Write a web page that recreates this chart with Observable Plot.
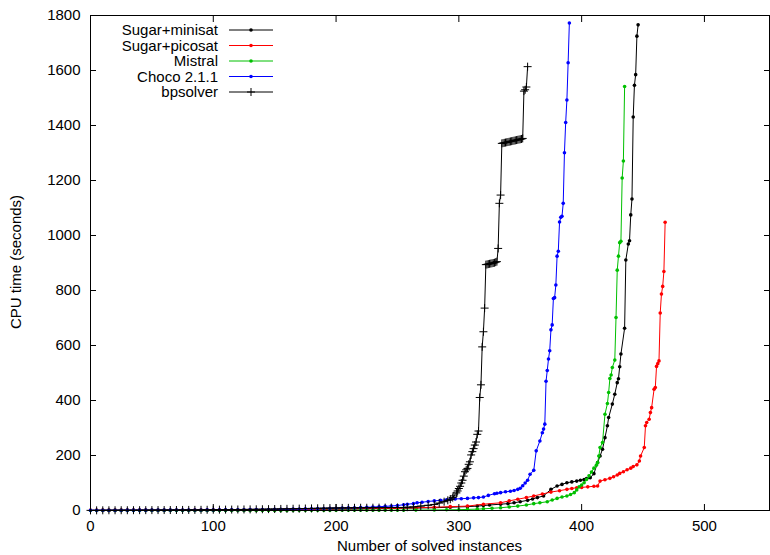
<!DOCTYPE html>
<html>
<head>
<meta charset="utf-8">
<script src="https://cdn.jsdelivr.net/npm/d3@7"></script>
<script src="https://cdn.jsdelivr.net/npm/@observablehq/plot@0.6"></script>
<style>
  html, body { margin: 0; padding: 0; background: #fff; }
  #chart { width: 770px; height: 555px; }
</style>
</head>
<body>
<div id="chart"></div>
<script>
// ---- data ----
const seriesNames = ["Sugar+minisat", "Sugar+picosat", "Mistral", "Choco 2.1.1", "bpsolver"];
const seriesColors = ["#000000", "#ff0000", "#00c000", "#0000ff", "#000000"];

const xTicks = [0, 100, 200, 300, 400, 500];
const yTicks = [0, 200, 400, 600, 800, 1000, 1200, 1400, 1600, 1800];

// common low part of the cactus (instances 0..250)
const baseN = [0,5,10,15,20,25,30,35,40,45,
  50,55,60,65,70,75,80,85,90,95,
  100,105,110,115,120,125,130,135,140,145,
  150,155,160,165,170,175,180,185,190,195,
  200,205,210,215,220,225,230,235,240,245,
  250];

const minisatBaseT = [0.2,0.2,0.3,0.3,0.3,0.4,0.4,0.4,0.5,0.5,
  0.5,0.6,0.6,0.7,0.7,0.8,0.8,0.9,0.9,1,
  1,1.1,1.2,1.3,1.4,1.5,1.6,1.7,1.8,2,
  2.1,2.3,2.5,2.7,2.9,3.1,3.3,3.5,3.8,4.1,
  4.4,4.7,5,5.3,5.6,6,6.3,6.7,7,7.4,
  8];
const picosatBaseT = [0.3,0.3,0.4,0.4,0.5,0.5,0.6,0.6,0.7,0.7,
  0.8,0.8,0.9,0.9,1,1,1.1,1.2,1.3,1.4,
  1.5,1.6,1.7,1.8,1.9,2,2.1,2.3,2.5,2.7,
  2.9,3.1,3.3,3.5,3.7,4,4.2,4.5,4.8,5.1,
  5.4,5.7,6,6.3,6.6,6.9,7.2,7.5,7.8,8.1,
  8.5];
const mistralBaseT = [0.1,0.1,0.1,0.1,0.1,0.1,0.1,0.1,0.1,0.1,
  0.1,0.1,0.1,0.1,0.2,0.2,0.2,0.2,0.2,0.2,
  0.2,0.2,0.3,0.3,0.3,0.3,0.3,0.3,0.4,0.4,
  0.4,0.4,0.4,0.5,0.5,0.5,0.5,0.6,0.6,0.6,
  0.6,0.7,0.7,0.7,0.8,0.8,0.8,0.9,0.9,1,
  1];
const chocoBaseT = [0.8,0.9,1,1,1.1,1.1,1.2,1.2,1.3,1.3,
  1.4,1.4,1.5,1.5,1.6,1.7,1.8,1.9,2,2.1,
  2.2,2.3,2.4,2.6,2.8,3,3.2,3.4,3.6,3.8,
  4,4.3,4.6,5,5.4,5.8,6.2,6.7,7.2,7.7,
  8.2,8.8,9.4,10,10.8,11.6,12.6,13.8,15,16.5,
  18];
const bpsolverBaseT = [0.5,0.6,0.7,0.8,0.9,1,1,1.1,1.2,1.3,
  1.4,1.5,1.6,1.7,1.8,2,2.1,2.2,2.4,2.6,
  2.8,3,3.2,3.4,3.6,3.8,4,4.3,4.6,5,
  5.3,5.7,6,6.4,6.8,7.2,7.6,8,8.4,8.8,
  9.2,9.4,9.6,9.8,10,10,10.2,10.4,10.6,10.8,
  11];

// upper part of each curve
const minisatN = [265,280,293,307,315,320,325,334,340,345,350,356,360,364,369,375,380,384,388,392,396,399,402,404,407,410,413,415,417,419,421,422,425,427,429,430,431,432,435,436,438,439,440,441,442,443,444,445,446];
const minisatT = [9,10,12,14,16,18,20,23,25,28,32,37,42,47,53,77,89,95,101,104,107,110,113,116,119,134,174,198,223,265,308,338,387,423,465,479,523,569,663,911,969,981,1075,1133,1431,1546,1585,1725,1766];

const picosatN = [265,280,293,307,320,334,341,348,355,361,368,375,382,388,392,396,400,405,410,413,415,419,423,426,429,431,434,437,440,442,445,447,448,451,452,453,455,456,457,459,460,461,462,463,464,465,466,467,468];
const picosatT = [10,12,14,16,23,28,35,41,47,53,60,67,72,77,80,83,84,86,88,89,107,112,117,123,129,135,141,148,154,160,166,180,198,229,308,320,332,356,374,441,447,524,534,544,718,787,815,869,1048];

const mistralN = [255,265,280,290,300,307,315,320,327,334,341,348,355,361,366,372,376,380,384,388,391,394,396,398,400,402,404,406,408,410,412,413,414,415,417,419,421,422,423,424,425,427,428,429,430,431,432,433,434,435];
const mistralT = [1,1.5,2,2.5,3,4,5,6,8,10,13,16,20,25,28,32,38,44,49,53,58,65,75,86,93,101,113,126,140,154,165,174,198,229,247,350,389,429,480,493,520,547,702,874,925,974,979,1209,1271,1542];

const chocoN = [255,258,263,266,270,275,280,285,290,293,297,302,307,312,316,320,324,329,331,334,338,342,345,348,350,352,354,356,358,361,363,366,368,369,370,371,372,373,374,375,376,377,378,379,380,381,382,383,384,385,386,387,388,389,390];
const chocoT = [21,23,25,28,30,33,35,37,39,41,42,43,44,46,47,49,55,61,63,65,68,70,73,77,81,90,100,110,132,146,217,253,283,296,314,470,509,551,581,657,675,771,774,820,925,943,1049,1066,1070,1117,1301,1411,1493,1628,1773];

const bpsolverN = [255,258,263,269,275,280,284,288,291,293,295,296,298,299,300,
  301,302,303,304,305,306,307,308,309,310,311,312,313,314,315,316,317,318,319,320,
  321,322,323,324,325,326,327,328,329,330,331,332,333,334,335,336,337,338,339,340,
  341,342,343,344,345,346,347,348,349,350,351,352,353,354,355,356];
const bpsolverT = [11,12,13,16,19,22,27,32,37,41,47,53,64,71,80,
  88,100,110,125,141,148,153,168,177,202,214,225,238,249,277,289,411,457,595,650,
  736,894,895,896,897,898,899,900,901,903,905,953,1117,1147,1335,1336,1337,1338,1339,1340,
  1341,1342,1343,1344,1345,1346,1347,1348,1349,1350,1351,1353,1525,1530,1540,1614];

// ---- build ----
const seriesN = [minisatN, picosatN, mistralN, chocoN, bpsolverN];
const seriesT = [minisatT, picosatT, mistralT, chocoT, bpsolverT];
const seriesBase = [minisatBaseT, picosatBaseT, mistralBaseT, chocoBaseT, bpsolverBaseT];
const markers = ["dot", "dot", "dot", "dot", "plus"];

const plusSymbol = {
  draw(context, size) {
    const r = Math.sqrt(size / Math.PI);
    context.moveTo(-r, 0); context.lineTo(r, 0);
    context.moveTo(0, -r); context.lineTo(0, r);
  }
};

const series = seriesNames.map((name, i) => {
  const n = baseN.concat(seriesN[i]);
  const t = seriesBase[i].concat(seriesT[i]);
  return {name, color: seriesColors[i], marker: markers[i], rows: n.map((v, j) => ({n: v, t: t[j]}))};
});

const marks = [];
for (const s of series) {
  marks.push(Plot.line(s.rows, {x: "n", y: "t", stroke: s.color, strokeWidth: 1}));
  if (s.marker === "plus") {
    marks.push(Plot.dot(s.rows, {x: "n", y: "t", r: 4, symbol: plusSymbol, fill: "none", stroke: s.color, strokeWidth: 1}));
  } else {
    marks.push(Plot.dot(s.rows, {x: "n", y: "t", r: 1.8, fill: s.color, stroke: "none"}));
  }
}

const FONT = "'Liberation Sans', Arial, Helvetica, sans-serif";
const plain = (d) => String(d);

const chart = Plot.plot({
  width: 770,
  height: 555,
  marginLeft: 90,
  marginRight: 1,
  marginTop: 15,
  marginBottom: 45,
  x: {domain: [0, 553], label: null},
  y: {domain: [0, 1800], label: null},
  style: {fontFamily: FONT, fontSize: "15px", color: "#000", background: "#fff", overflow: "visible"},
  marks: [
    ...marks,
    Plot.frame({stroke: "#000", strokeWidth: 1}),
    Plot.axisX(xTicks, {anchor: "bottom", tickSize: -6, tickPadding: 16, fontSize: 15, tickFormat: plain}),
    Plot.axisX(xTicks, {anchor: "top", tickSize: -6, tickFormat: () => ""}),
    Plot.axisY(yTicks, {anchor: "left", tickSize: -6, tickPadding: 16, fontSize: 15, tickFormat: plain}),
    Plot.axisY(yTicks, {anchor: "right", tickSize: -6, tickFormat: () => ""})
  ]
});

document.getElementById("chart").appendChild(chart);

// ---- axis titles and legend ----
const svg = d3.select(chart);
svg.append("text")
  .attr("x", 429.5).attr("y", 551)
  .attr("text-anchor", "middle")
  .attr("font-family", FONT).attr("font-size", 15).attr("fill", "#000")
  .text("Number of solved instances");
svg.append("text")
  .attr("transform", "translate(21,262) rotate(-90)")
  .attr("text-anchor", "middle")
  .attr("font-family", FONT).attr("font-size", 15).attr("fill", "#000")
  .text("CPU time (seconds)");

const legend = svg.append("g").attr("font-family", FONT).attr("font-size", 15);
series.forEach((s, i) => {
  const cy = 30 + i * 15.5;
  legend.append("text").attr("x", 218).attr("y", cy).attr("dy", "0.35em")
    .attr("text-anchor", "end").attr("fill", "#000").text(s.name);
  legend.append("line").attr("x1", 229).attr("x2", 273).attr("y1", cy).attr("y2", cy)
    .attr("stroke", s.color).attr("stroke-width", 1);
  if (s.marker === "plus") {
    legend.append("path").attr("d", `M${251 - 4},${cy}h8M251,${cy - 4}v8`)
      .attr("stroke", s.color).attr("fill", "none");
  } else {
    legend.append("circle").attr("cx", 251).attr("cy", cy).attr("r", 1.8).attr("fill", s.color);
  }
});
</script>
</body>
</html>
